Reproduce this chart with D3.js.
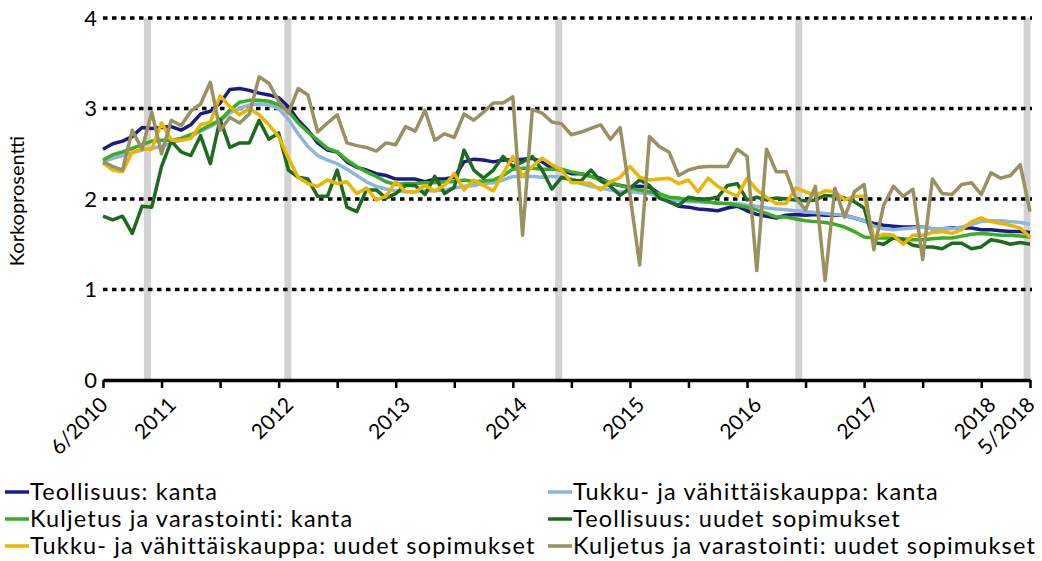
<!DOCTYPE html>
<html>
<head>
<meta charset="utf-8">
<script src="https://cdn.jsdelivr.net/npm/d3@7"></script>
<style>body{margin:0;background:#fff}</style>
</head>
<body>
<svg width="1042" height="561" font-family="Lato, sans-serif"></svg>
<script>

// monthly observations 6/2010 .. 5/2018
var months = d3.timeMonth.range(new Date(2010, 5, 1), new Date(2018, 5, 1));

var teollisuusKanta = [
  2.55,2.61,2.64,2.69,2.79,2.78,2.79,2.80,2.76,2.82,2.94,2.97,3.06,3.21,3.22,3.20,3.17,3.15,3.12,3.02,
  2.87,2.76,2.62,2.54,2.52,2.41,2.35,2.32,2.28,2.26,2.22,2.22,2.22,2.19,2.22,2.22,2.24,2.41,2.44,
  2.43,2.41,2.43,2.43,2.44,2.45,2.41,2.34,2.32,2.28,2.28,2.25,2.23,2.17,2.15,2.13,2.14,2.13,2.06,
  1.97,1.92,1.91,1.89,1.88,1.87,1.90,1.92,1.87,1.83,1.81,1.79,1.82,1.83,1.82,1.83,1.82,1.82,1.82,
  1.79,1.76,1.73,1.71,1.70,1.69,1.69,1.69,1.67,1.67,1.68,1.68,1.68,1.66,1.66,1.65,1.64,1.64,1.63];

var tukkuKanta = [
  2.41,2.45,2.48,2.51,2.54,2.56,2.58,2.62,2.65,2.69,2.75,2.80,2.86,2.95,3.00,3.04,3.05,3.04,3.00,2.88,
  2.72,2.58,2.48,2.43,2.39,2.33,2.26,2.19,2.14,2.11,2.09,2.08,2.08,2.09,2.09,2.10,2.12,2.14,2.15,
  2.17,2.18,2.21,2.25,2.25,2.25,2.24,2.25,2.24,2.22,2.17,2.14,2.12,2.10,2.08,2.08,2.07,2.06,2.03,
  1.99,1.98,1.97,1.97,1.96,1.96,1.95,1.95,1.93,1.92,1.90,1.89,1.88,1.87,1.86,1.85,1.84,1.83,1.82,
  1.79,1.76,1.70,1.67,1.66,1.67,1.68,1.69,1.67,1.67,1.67,1.69,1.72,1.75,1.76,1.76,1.75,1.74,1.72];

var kuljetusKanta = [
  2.43,2.49,2.52,2.56,2.60,2.64,2.65,2.65,2.67,2.71,2.76,2.82,2.87,2.98,3.07,3.09,3.09,3.08,3.04,2.97,
  2.84,2.74,2.65,2.56,2.52,2.43,2.36,2.30,2.25,2.19,2.16,2.17,2.17,2.18,2.18,2.19,2.19,2.21,2.19,
  2.20,2.21,2.26,2.33,2.34,2.34,2.33,2.33,2.33,2.30,2.28,2.25,2.21,2.18,2.15,2.12,2.10,2.08,2.06,
  2.02,2.01,1.99,1.98,1.97,1.95,1.95,1.93,1.91,1.88,1.84,1.80,1.80,1.78,1.76,1.75,1.74,1.72,1.69,
  1.64,1.58,1.57,1.57,1.57,1.56,1.55,1.55,1.56,1.57,1.57,1.59,1.61,1.62,1.61,1.60,1.60,1.59,1.58];

var teollisuusUudet = [
  1.81,1.77,1.81,1.62,1.92,1.91,2.36,2.64,2.52,2.48,2.70,2.39,2.88,2.57,2.62,2.62,2.87,2.66,2.73,2.32,
  2.24,2.22,2.03,2.03,2.32,1.91,1.86,2.10,2.10,2.01,2.06,2.15,2.15,2.05,2.25,2.06,2.13,2.54,2.32,
  2.23,2.32,2.47,2.36,2.41,2.47,2.32,2.11,2.24,2.21,2.20,2.32,2.20,2.14,2.04,2.12,2.21,2.15,2.01,
  1.97,1.93,2.02,2.00,2.00,2.02,2.15,2.17,1.99,2.02,1.99,2.01,2.00,1.99,1.98,1.99,2.04,2.03,2.01,
  1.97,1.90,1.52,1.50,1.57,1.55,1.49,1.47,1.47,1.45,1.51,1.51,1.45,1.47,1.55,1.53,1.50,1.52,1.50];

var tukkuUudet = [
  2.40,2.32,2.30,2.52,2.55,2.55,2.84,2.65,2.65,2.67,2.82,2.85,3.14,3.02,2.93,3.00,2.93,2.82,2.69,2.45,
  2.24,2.17,2.14,2.21,2.17,2.19,2.06,2.12,1.99,2.03,2.19,2.08,2.08,2.15,2.09,2.15,2.28,2.10,2.21,
  2.15,2.09,2.28,2.47,2.25,2.36,2.45,2.38,2.32,2.18,2.18,2.17,2.10,2.19,2.24,2.36,2.24,2.21,2.22,
  2.23,2.17,2.21,2.08,2.23,2.14,2.08,2.03,2.23,2.10,2.02,1.95,1.95,2.12,2.08,2.04,2.09,2.08,1.99,
  2.03,2.03,1.57,1.61,1.60,1.50,1.60,1.60,1.63,1.64,1.62,1.66,1.75,1.79,1.75,1.73,1.71,1.68,1.58];

var kuljetusUudet = [
  2.41,2.36,2.32,2.76,2.55,2.96,2.50,2.87,2.81,2.97,3.05,3.29,2.76,2.90,2.84,2.94,3.35,3.28,3.08,2.95,
  3.22,3.15,2.74,2.84,2.93,2.62,2.59,2.57,2.53,2.62,2.60,2.80,2.75,2.98,2.65,2.72,2.68,2.94,2.87,
  2.96,3.06,3.06,3.13,1.60,2.99,2.95,2.85,2.83,2.71,2.74,2.78,2.82,2.66,2.79,2.05,1.27,2.69,2.58,
  2.52,2.26,2.32,2.35,2.36,2.36,2.36,2.55,2.47,1.21,2.55,2.30,2.30,2.01,1.88,2.14,1.10,2.12,1.80,
  2.08,2.16,1.44,1.93,2.14,2.03,2.11,1.33,2.22,2.06,2.05,2.16,2.18,2.05,2.29,2.23,2.26,2.38,1.86];

var seriesNames = [
  "Teollisuus: kanta",
  "Tukku- ja vähittäiskauppa: kanta",
  "Kuljetus ja varastointi: kanta",
  "Teollisuus: uudet sopimukset",
  "Tukku- ja vähittäiskauppa: uudet sopimukset",
  "Kuljetus ja varastointi: uudet sopimukset"];
var seriesValues = [teollisuusKanta, tukkuKanta, kuljetusKanta, teollisuusUudet, tukkuUudet, kuljetusUudet];
var seriesColors = ["#1a1a8a", "#8db4e3", "#3aae22", "#1d6b1d", "#eab600", "#9a9160"];

// x labels (month index -> text)
var labelAt = [0, 7, 19, 31, 43, 55, 67, 79, 91, 95];
var labelText = ["6/2010", "2011", "2012", "2013", "2014", "2015", "2016", "2017", "2018", "5/2018"];
var yTicks = [0, 1, 2, 3, 4];
// grey marker columns (month index)
var shadeAt = [4.55, 18.95, 46.7, 71.3, 94.7];

var svg = d3.select("svg");

var x = d3.scaleLinear().domain([0, months.length - 1]).range([103, 1030]);
var y = d3.scaleLinear().domain([0, 4]).range([380, 18]);

svg.selectAll(".shade")
  .data(shadeAt)
  .enter().append("rect")
    .attr("class", "shade")
    .attr("x", function(d) { return x(d) - 3.5; })
    .attr("width", 7)
    .attr("y", y(4))
    .attr("height", y(0) - y(4))
    .attr("fill", "#d2d2d2");

svg.selectAll(".grid")
  .data(yTicks.slice(1))
  .enter().append("line")
    .attr("class", "grid")
    .attr("x1", x(0)).attr("x2", x(95) + 2)
    .attr("y1", function(d) { return y(d); })
    .attr("y2", function(d) { return y(d); })
    .attr("stroke", "#000")
    .attr("stroke-width", 3.5)
    .attr("stroke-dasharray", "4.5,4.5");

var line = d3.line()
    .x(function(d, i) { return x(i); })
    .y(function(d) { return y(d); });

svg.selectAll(".series")
  .data(seriesValues)
  .enter().append("path")
    .attr("class", "series")
    .attr("d", line)
    .attr("fill", "none")
    .attr("stroke", function(d, i) { return seriesColors[i]; })
    .attr("stroke-width", 3.5)
    .attr("stroke-linejoin", "round");

var xAxis = svg.append("g")
    .attr("transform", "translate(0," + y(0) + ")")
    .call(d3.axisBottom(x)
      .tickValues(d3.range(0, 91, 6).concat([95]))
      .tickSize(8)
      .tickSizeOuter(0)
      .tickFormat(""));
xAxis.select(".domain").attr("stroke", "#000").attr("stroke-width", 3.5);
xAxis.selectAll(".tick line").attr("stroke", "#000").attr("stroke-width", 2.5);

svg.selectAll(".xlabel")
  .data(labelAt)
  .enter().append("text")
    .attr("class", "xlabel")
    .attr("transform", function(d) { return "translate(" + (x(d) - 5) + ",395) rotate(-45)"; })
    .attr("text-anchor", "end")
    .attr("dy", "0.75em")
    .attr("font-size", 21)
    .text(function(d, i) { return labelText[i]; });

svg.selectAll(".ylabel")
  .data(yTicks)
  .enter().append("text")
    .attr("class", "ylabel")
    .attr("x", 97)
    .attr("y", function(d) { return y(d); })
    .attr("dy", "0.35em")
    .attr("text-anchor", "end")
    .attr("font-size", 22)
    .text(function(d) { return d; });

svg.append("text")
    .attr("transform", "translate(24,201) rotate(-90)")
    .attr("text-anchor", "middle")
    .attr("font-size", 20)
    .text("Korkoprosentti");

var legend = svg.selectAll(".legend")
  .data(seriesNames)
  .enter().append("g")
    .attr("class", "legend")
    .attr("transform", function(d, i) {
      return "translate(" + (i % 2 ? 548 : 5) + "," + (492 + Math.floor(i / 2) * 27) + ")";
    });

legend.append("line")
    .attr("x1", 0).attr("x2", 24)
    .attr("stroke", function(d, i) { return seriesColors[i]; })
    .attr("stroke-width", 3.5);

legend.append("text")
    .attr("x", 25)
    .attr("dy", "0.36em")
    .attr("font-size", 23.5)
    .attr("letter-spacing", 1.15)
    .text(function(d) { return d; });

</script>
</body>
</html>
